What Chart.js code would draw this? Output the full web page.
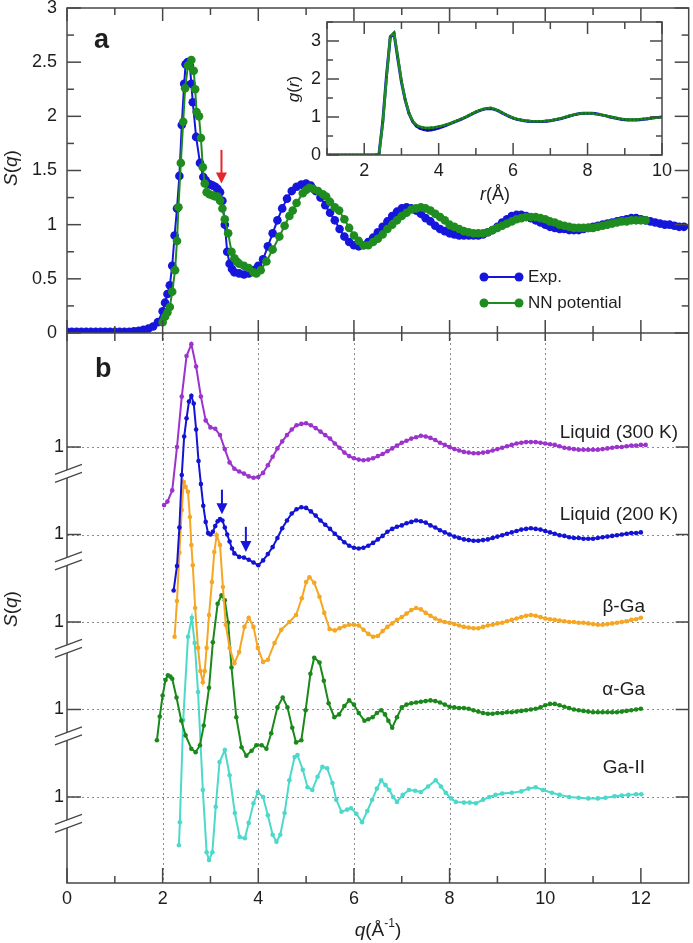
<!DOCTYPE html>
<html>
<head>
<meta charset="utf-8">
<script src="https://cdn.jsdelivr.net/npm/chart.js@4.4.1/dist/chart.umd.min.js"></script>
<style>
html, body { margin: 0; padding: 0; background: #fff; }
#wrap { position: relative; width: 693px; height: 943px; }
#wrap canvas { position: absolute; left: 0; top: 0; }
</style>
</head>
<body>
<div id="wrap">
  <canvas id="main" width="693" height="943"></canvas>
  <canvas id="inset" width="693" height="943"></canvas>
</div>
<script>
// ---- panel a: S(q), experiment vs NN potential ----
const expQ = [0, 0.1, 0.2, 0.3, 0.4, 0.5, 0.6, 0.7, 0.8, 0.9, 1.0, 1.1, 1.2, 1.3, 1.4, 1.5, 1.6, 1.7, 1.8, 1.9,
  2.0, 2.05, 2.1, 2.15, 2.2, 2.25, 2.3, 2.35, 2.4, 2.45, 2.48, 2.52, 2.57, 2.6, 2.63, 2.7, 2.78, 2.85, 2.9, 2.95,
  3.0, 3.05, 3.1, 3.15, 3.2, 3.25, 3.3, 3.35, 3.4, 3.45, 3.5, 3.6, 3.7, 3.8, 3.9,
  4.0, 4.1, 4.2, 4.3, 4.4, 4.5, 4.6, 4.7, 4.8, 4.9, 5.0, 5.1, 5.2, 5.3, 5.4, 5.5, 5.6, 5.7, 5.8, 5.9,
  6.0, 6.1, 6.2, 6.3, 6.4, 6.5, 6.6, 6.7, 6.8, 6.9, 7.0, 7.1, 7.2, 7.3, 7.4, 7.5, 7.6, 7.7, 7.8, 7.9,
  8.0, 8.1, 8.2, 8.3, 8.4, 8.5, 8.6, 8.7, 8.8, 8.9, 9.0, 9.1, 9.2, 9.3, 9.4, 9.5, 9.6, 9.7, 9.8, 9.9,
  10.0, 10.1, 10.2, 10.3, 10.4, 10.5, 10.6, 10.7, 10.8, 10.9, 11.0, 11.1, 11.2, 11.3, 11.4, 11.5, 11.6, 11.7, 11.8, 11.9,
  12.0, 12.1, 12.2, 12.3, 12.4, 12.5, 12.6, 12.7, 12.8, 12.9];
const expS = [0.01, 0.01, 0.01, 0.01, 0.01, 0.01, 0.01, 0.01, 0.01, 0.01, 0.01, 0.01, 0.01, 0.01, 0.015, 0.02, 0.03, 0.04, 0.06, 0.1,
  0.2, 0.28, 0.36, 0.44, 0.62, 0.9, 1.15, 1.45, 1.92, 2.3, 2.48, 2.5, 2.47, 2.3, 2.13, 1.81, 1.57, 1.44, 1.41, 1.38,
  1.37, 1.36, 1.35, 1.33, 1.3, 1.22, 1.0, 0.75, 0.64, 0.59, 0.56, 0.55, 0.54, 0.55, 0.58,
  0.62, 0.68, 0.8, 0.92, 1.04, 1.15, 1.24, 1.31, 1.35, 1.37, 1.38, 1.36, 1.31, 1.25, 1.18, 1.11, 1.04, 0.96, 0.89, 0.84,
  0.81, 0.8, 0.81, 0.84, 0.88, 0.93, 0.98, 1.03, 1.08, 1.12, 1.15, 1.16, 1.15, 1.13, 1.1, 1.06, 1.03, 0.99, 0.96, 0.94,
  0.92, 0.91, 0.9, 0.9, 0.9, 0.9, 0.9, 0.91, 0.93, 0.95, 0.98, 1.02, 1.05, 1.08, 1.09, 1.09, 1.08, 1.06, 1.04, 1.02,
  1.0, 0.98, 0.97, 0.96, 0.96, 0.95, 0.95, 0.95, 0.96, 0.97, 0.98, 0.99, 1.0, 1.01, 1.02, 1.03, 1.04, 1.05, 1.06, 1.06,
  1.05, 1.04, 1.03, 1.02, 1.01, 1.0, 1.0, 0.99, 0.98, 0.98];

const nnQ = [2.0, 2.05, 2.1, 2.15, 2.2, 2.26, 2.3, 2.33, 2.38, 2.43, 2.47, 2.53, 2.6, 2.65, 2.68, 2.71, 2.76, 2.8, 2.84, 2.88,
  2.92, 2.98, 3.05, 3.1, 3.15, 3.2, 3.25, 3.3, 3.37, 3.44, 3.5, 3.55, 3.6, 3.7, 3.8, 3.9, 3.96, 4.05, 4.17, 4.3,
  4.44, 4.55, 4.65, 4.72, 4.8, 4.93, 5.0, 5.07, 5.15, 5.25, 5.35, 5.42, 5.5, 5.6, 5.69, 5.8, 5.9, 6.0, 6.1, 6.2,
  6.3, 6.4, 6.5, 6.6, 6.7, 6.8, 6.9, 7.0, 7.1, 7.2, 7.3, 7.4, 7.5, 7.6, 7.7, 7.8, 7.9,
  8.0, 8.1, 8.2, 8.3, 8.4, 8.5, 8.6, 8.7, 8.8, 8.9, 9.0, 9.1, 9.2, 9.3, 9.4, 9.5, 9.6, 9.7, 9.8, 9.9,
  10.0, 10.1, 10.2, 10.3, 10.4, 10.5, 10.6, 10.7, 10.8, 10.9, 11.0, 11.1, 11.2, 11.3, 11.4, 11.5, 11.6, 11.7, 11.8, 11.9,
  12.0, 12.1];
const nnS = [0.1, 0.15, 0.19, 0.24, 0.38, 0.58, 0.85, 1.16, 1.57, 1.95, 2.26, 2.47, 2.52, 2.42, 2.25, 2.04, 2.0, 1.8, 1.53, 1.38,
  1.3, 1.28, 1.27, 1.26, 1.26, 1.22, 1.15, 1.05, 0.92, 0.75, 0.69, 0.66, 0.64, 0.62, 0.6, 0.56, 0.55, 0.58, 0.66, 0.77,
  0.89, 0.99, 1.08, 1.13, 1.2, 1.29, 1.32, 1.34, 1.33, 1.31, 1.28, 1.26, 1.21, 1.16, 1.13, 1.05, 0.97, 0.9, 0.85, 0.81,
  0.81, 0.84, 0.87, 0.91, 0.96, 1.0, 1.04, 1.08, 1.11, 1.14, 1.15, 1.16, 1.15, 1.13, 1.1, 1.07, 1.04,
  1.0, 0.98, 0.96, 0.94, 0.93, 0.92, 0.92, 0.92, 0.93, 0.95, 0.97, 0.99, 1.01, 1.03, 1.05, 1.06, 1.07, 1.07, 1.07, 1.06,
  1.05, 1.03, 1.02, 1.0, 0.99, 0.98, 0.97, 0.97, 0.97, 0.97, 0.97, 0.98, 0.99, 1.0, 1.01, 1.02, 1.03, 1.03, 1.04, 1.04,
  1.04, 1.04];

// ---- panel b: offset S(q) curves ----
const liq300Q = [2.03, 2.1, 2.2, 2.3, 2.4, 2.5, 2.6, 2.7, 2.8, 2.9, 3.0, 3.1, 3.2, 3.3, 3.4, 3.5, 3.6, 3.7, 3.8, 3.9,
  4.0, 4.1, 4.2, 4.3, 4.4, 4.5, 4.6, 4.7, 4.8, 4.9, 5.0, 5.1, 5.2, 5.3, 5.4, 5.5, 5.6, 5.7, 5.8, 5.9,
  6.0, 6.1, 6.2, 6.3, 6.4, 6.5, 6.6, 6.7, 6.8, 6.9, 7.0, 7.1, 7.2, 7.3, 7.4, 7.5, 7.6, 7.7, 7.8, 7.9,
  8.0, 8.1, 8.2, 8.3, 8.4, 8.5, 8.6, 8.7, 8.8, 8.9, 9.0, 9.1, 9.2, 9.3, 9.4, 9.5, 9.6, 9.7, 9.8, 9.9,
  10.0, 10.1, 10.2, 10.3, 10.4, 10.5, 10.6, 10.7, 10.8, 10.9, 11.0, 11.1, 11.2, 11.3, 11.4, 11.5, 11.6, 11.7, 11.8, 11.9,
  12.0, 12.1];
const liq300S = [0.17, 0.22, 0.38, 1.0, 1.72, 2.3, 2.47, 2.15, 1.72, 1.38, 1.28, 1.26, 1.17, 0.97, 0.78, 0.69, 0.65, 0.62, 0.58, 0.56,
  0.57, 0.63, 0.74, 0.86, 0.98, 1.08, 1.17, 1.25, 1.31, 1.33, 1.34, 1.31, 1.27, 1.22, 1.17, 1.12, 1.05, 0.99, 0.92, 0.87,
  0.84, 0.82, 0.81, 0.82, 0.84, 0.87, 0.9, 0.94, 0.98, 1.02, 1.06, 1.09, 1.12, 1.14, 1.16, 1.15, 1.13, 1.1, 1.06, 1.03,
  1.0, 0.97, 0.95, 0.93, 0.92, 0.91, 0.91, 0.92, 0.93, 0.95, 0.97, 0.99, 1.01, 1.03, 1.05, 1.06, 1.07, 1.07, 1.07, 1.06,
  1.05, 1.04, 1.03, 1.01, 0.99, 0.98, 0.97, 0.96, 0.96, 0.96, 0.96, 0.96, 0.97, 0.98, 0.99, 1.0, 1.0, 1.01, 1.02, 1.02,
  1.03, 1.03];

const liq200Q = [2.23, 2.3, 2.35, 2.4, 2.45, 2.5, 2.55, 2.6, 2.65, 2.7, 2.75, 2.8, 2.85, 2.9, 2.95, 3.0, 3.05, 3.1, 3.15, 3.2,
  3.25, 3.3, 3.35, 3.4, 3.45, 3.5, 3.6, 3.7, 3.8, 3.9,
  4.0, 4.1, 4.2, 4.3, 4.4, 4.5, 4.6, 4.7, 4.8, 4.9, 5.0, 5.1, 5.2, 5.3, 5.4, 5.5, 5.6, 5.7, 5.8, 5.9,
  6.0, 6.1, 6.2, 6.3, 6.4, 6.5, 6.6, 6.7, 6.8, 6.9, 7.0, 7.1, 7.2, 7.3, 7.4, 7.5, 7.6, 7.7, 7.8, 7.9,
  8.0, 8.1, 8.2, 8.3, 8.4, 8.5, 8.6, 8.7, 8.8, 8.9, 9.0, 9.1, 9.2, 9.3, 9.4, 9.5, 9.6, 9.7, 9.8, 9.9,
  10.0, 10.1, 10.2, 10.3, 10.4, 10.5, 10.6, 10.7, 10.8, 10.9, 11.0, 11.1, 11.2, 11.3, 11.4, 11.5, 11.6, 11.7, 11.8, 11.9,
  12.0];
const liq200S = [0.2, 0.55, 1.1, 1.85, 2.4, 2.66, 2.9, 2.98, 2.87, 2.5, 2.05, 1.72, 1.41, 1.18, 1.02, 1.0, 1.04, 1.12, 1.19, 1.22,
  1.2, 1.1, 1.0, 0.9, 0.8, 0.73, 0.68, 0.67, 0.64, 0.6,
  0.56, 0.63, 0.72, 0.82, 0.95, 1.09, 1.2, 1.3, 1.36, 1.39, 1.38, 1.33, 1.27, 1.2, 1.14, 1.08, 1.01, 0.95, 0.89, 0.84,
  0.81, 0.8, 0.81, 0.84, 0.88, 0.93, 0.98, 1.04, 1.08, 1.11, 1.13, 1.16, 1.18, 1.2, 1.19, 1.17, 1.13, 1.1, 1.06, 1.03,
  1.0, 0.97, 0.95, 0.93, 0.92, 0.91, 0.91, 0.92, 0.93, 0.95, 0.97, 0.99, 1.01, 1.03, 1.05, 1.07, 1.08, 1.09, 1.08, 1.07,
  1.05, 1.03, 1.01, 0.99, 0.98, 0.96, 0.95, 0.95, 0.94, 0.94, 0.94, 0.95, 0.96, 0.97, 0.98, 0.99, 1.0, 1.01, 1.02, 1.02,
  1.03];

const betaQ = [2.25, 2.3, 2.35, 2.4, 2.44, 2.48, 2.53, 2.57, 2.6, 2.63, 2.68, 2.74, 2.79, 2.84, 2.88, 2.92, 2.97, 3.03, 3.08, 3.13,
  3.2, 3.26, 3.32, 3.4, 3.5, 3.6, 3.71, 3.8, 3.9, 3.99, 4.1, 4.2, 4.34, 4.48, 4.65, 4.79, 4.91, 5.0, 5.07, 5.17,
  5.28, 5.38, 5.49, 5.6, 5.7, 5.8, 5.9, 6.0, 6.1, 6.2, 6.3, 6.4, 6.5, 6.6, 6.7, 6.8, 6.9, 7.0, 7.1, 7.2,
  7.3, 7.4, 7.5, 7.6, 7.7, 7.8, 7.9, 8.0, 8.1, 8.2, 8.3, 8.4, 8.5, 8.6, 8.7, 8.8, 8.9, 9.0, 9.1, 9.2,
  9.3, 9.4, 9.5, 9.6, 9.7, 9.8, 9.9, 10.0, 10.1, 10.2, 10.3, 10.4, 10.5, 10.6, 10.7, 10.8, 10.9, 11.0, 11.1, 11.2,
  11.3, 11.4, 11.5, 11.6, 11.7, 11.8, 11.9, 12.0];
const betaS = [0.79, 1.3, 1.99, 2.6, 3.0, 2.93, 2.86, 2.5, 2.1, 1.81, 1.2, 0.63, 0.3, 0.14, 0.3, 0.63, 1.1, 1.57, 2.0, 2.24,
  2.1, 1.5, 0.96, 0.63, 0.41, 0.57, 0.93, 1.06, 0.93, 0.63, 0.43, 0.46, 0.7, 0.89, 1.0, 1.1, 1.34, 1.57, 1.64, 1.56,
  1.36, 1.13, 0.9, 0.88, 0.91, 0.94, 0.96, 0.96, 0.95, 0.89, 0.83, 0.79, 0.8, 0.87, 0.93, 0.98, 1.03, 1.07, 1.12, 1.17,
  1.2, 1.18, 1.13, 1.09, 1.05, 1.02, 1.0, 0.99, 0.97, 0.95, 0.93, 0.92, 0.91, 0.91, 0.93, 0.95, 0.96, 0.98, 0.99, 1.01,
  1.03, 1.05, 1.07, 1.09, 1.1, 1.09, 1.07, 1.05, 1.04, 1.03, 1.02, 1.01, 1.0, 1.0, 0.99, 0.99, 0.98, 0.97, 0.96, 0.96,
  0.97, 0.98, 0.99, 1.0, 1.01, 1.03, 1.04, 1.06];

const alphaQ = [1.88, 1.94, 2.0, 2.06, 2.11, 2.16, 2.2, 2.29, 2.39, 2.48, 2.6, 2.69, 2.78, 2.86, 2.97, 3.05, 3.15, 3.23, 3.3, 3.37,
  3.44, 3.54, 3.65, 3.75, 3.86, 3.96, 4.07, 4.17, 4.27, 4.4, 4.51, 4.61, 4.71, 4.79, 4.9, 4.99, 5.09, 5.17, 5.28, 5.37,
  5.47, 5.59, 5.69, 5.8, 5.9, 6.0, 6.1, 6.22, 6.3, 6.39, 6.48, 6.57, 6.65, 6.72, 6.8, 6.9, 7.0, 7.1, 7.2, 7.3,
  7.4, 7.5, 7.6, 7.7, 7.8, 7.9, 8.0, 8.1, 8.2, 8.3, 8.4, 8.5, 8.6, 8.7, 8.8, 8.9, 9.0, 9.1, 9.2, 9.3,
  9.4, 9.5, 9.6, 9.7, 9.8, 9.9, 10.0, 10.1, 10.2, 10.3, 10.4, 10.5, 10.6, 10.7, 10.8, 10.9, 11.0, 11.1, 11.2, 11.3,
  11.4, 11.5, 11.6, 11.7, 11.8, 11.9, 12.0];
const alphaS = [0.56, 0.9, 1.2, 1.42, 1.49, 1.47, 1.44, 1.17, 0.84, 0.63, 0.44, 0.39, 0.49, 0.77, 1.31, 1.96, 2.51, 2.63, 2.56, 2.24,
  1.6, 0.89, 0.46, 0.34, 0.41, 0.49, 0.49, 0.44, 0.66, 1.03, 1.17, 1.03, 0.74, 0.53, 0.56, 0.99, 1.51, 1.74, 1.67, 1.41,
  1.09, 0.89, 0.93, 1.05, 1.13, 1.07, 0.95, 0.84, 0.86, 0.89, 0.95, 0.99, 0.93, 0.84, 0.74, 0.89, 1.03, 1.07, 1.09, 1.1,
  1.11, 1.12, 1.13, 1.12, 1.1, 1.07, 1.04, 1.03, 1.02, 1.02, 1.01, 0.99, 0.97, 0.95, 0.94, 0.94, 0.95, 0.95, 0.96, 0.96,
  0.97, 0.98, 0.99, 1.0, 1.01, 1.03, 1.06, 1.08, 1.08, 1.06, 1.04, 1.02, 1.0, 0.99, 0.98, 0.97, 0.96, 0.96, 0.96, 0.96,
  0.96, 0.96, 0.97, 0.98, 0.99, 1.0, 1.01];

const ga2Q = [2.34, 2.36, 2.43, 2.53, 2.61, 2.67, 2.74, 2.84, 2.92, 2.97, 3.04, 3.11, 3.19, 3.3, 3.4, 3.51, 3.61, 3.72, 3.8, 3.9,
  3.99, 4.1, 4.2, 4.3, 4.38, 4.46, 4.55, 4.65, 4.76, 4.82, 4.93, 5.03, 5.13, 5.24, 5.34, 5.44, 5.55, 5.63, 5.74, 5.86,
  5.94, 6.05, 6.17, 6.28, 6.38, 6.48, 6.57, 6.66, 6.74, 6.82, 6.9, 7.02, 7.15, 7.28, 7.4, 7.55, 7.71, 7.82, 7.92, 8.03,
  8.13, 8.3, 8.42, 8.55, 8.7, 8.83, 8.96, 9.1, 9.3, 9.5, 9.65, 9.8, 9.95, 10.14, 10.3, 10.5, 10.7, 10.9, 11.1, 11.26,
  11.45, 11.6, 11.74, 11.9, 12.01];
const ga2S = [0.31, 0.64, 2.1, 3.29, 3.56, 3.2, 2.5, 1.1, 0.21, 0.1, 0.21, 0.86, 1.5, 1.67, 1.31, 0.77, 0.43, 0.41, 0.63, 0.91,
  1.07, 1.0, 0.74, 0.46, 0.36, 0.46, 0.77, 1.24, 1.57, 1.6, 1.39, 1.14, 1.1, 1.29, 1.43, 1.41, 1.2, 0.96, 0.79, 0.82,
  0.84, 0.76, 0.64, 0.8, 0.96, 1.12, 1.24, 1.17, 1.1, 1.0, 0.93, 1.03, 1.1, 1.09, 1.07, 1.15, 1.24, 1.15, 1.06, 0.98,
  0.93, 0.92, 0.92, 0.91, 0.96, 1.0, 1.03, 1.05, 1.06, 1.08, 1.12, 1.14, 1.1, 1.06, 1.03, 1.0, 0.99, 0.98, 0.98, 0.99,
  1.01, 1.02, 1.03, 1.04, 1.04];

// vertical offsets of the stacked curves and the "1" reference levels
const bNames = ['Liquid (300 K)', 'Liquid (200 K)', '\u03b2-Ga', '\u03b1-Ga', 'Ga-II'];
const bOffsets = [5.0, 3.75, 2.5, 1.25, 0];
const bLevels = [6.0, 4.75, 3.5, 2.25, 1.0];

// ---- inset: g(r) ----
const gR = [1.0, 1.1, 1.2, 1.3, 1.4, 1.5, 1.6, 1.7, 1.8, 1.9, 2.0, 2.1, 2.2, 2.3, 2.4, 2.5, 2.6, 2.7, 2.8, 2.9,
  3.0, 3.1, 3.2, 3.3, 3.4, 3.5, 3.6, 3.7, 3.8, 3.9, 4.0, 4.1, 4.2, 4.3, 4.4, 4.5, 4.6, 4.7, 4.8, 4.9,
  5.0, 5.1, 5.2, 5.3, 5.4, 5.5, 5.6, 5.7, 5.8, 5.9, 6.0, 6.1, 6.2, 6.3, 6.4, 6.5, 6.6, 6.7, 6.8, 6.9,
  7.0, 7.1, 7.2, 7.3, 7.4, 7.5, 7.6, 7.7, 7.8, 7.9, 8.0, 8.1, 8.2, 8.3, 8.4, 8.5, 8.6, 8.7, 8.8, 8.9,
  9.0, 9.1, 9.2, 9.3, 9.4, 9.5, 9.6, 9.7, 9.8, 9.9, 10.0];
const gExp = [0, 0, 0, 0, 0, 0, 0, 0, 0, 0, 0, 0, 0, 0, 0.05, 0.9, 2.1, 3.1, 3.2, 2.55,
  1.92, 1.45, 1.1, 0.88, 0.76, 0.7, 0.67, 0.65, 0.66, 0.68, 0.71, 0.74, 0.78, 0.82, 0.86, 0.9, 0.94, 0.98, 1.03, 1.08,
  1.13, 1.17, 1.2, 1.22, 1.22, 1.2, 1.16, 1.11, 1.06, 1.01, 0.97, 0.94, 0.92, 0.9, 0.89, 0.88, 0.88, 0.88, 0.88, 0.89,
  0.9, 0.92, 0.94, 0.96, 0.99, 1.02, 1.05, 1.07, 1.09, 1.1, 1.1, 1.1, 1.09, 1.07, 1.05, 1.03, 1.0, 0.98, 0.96, 0.94,
  0.93, 0.92, 0.92, 0.92, 0.93, 0.94, 0.95, 0.97, 0.98, 0.99, 1.0];
const gNN = [0, 0, 0, 0, 0, 0, 0, 0, 0, 0, 0, 0, 0, 0, 0.04, 0.85, 2.05, 3.12, 3.22, 2.6,
  1.95, 1.46, 1.12, 0.9, 0.79, 0.74, 0.72, 0.71, 0.72, 0.73, 0.75, 0.77, 0.8, 0.83, 0.87, 0.91, 0.95, 0.99, 1.04, 1.09,
  1.14, 1.18, 1.21, 1.23, 1.24, 1.21, 1.17, 1.12, 1.07, 1.02, 0.98, 0.95, 0.93, 0.91, 0.9, 0.89, 0.89, 0.89, 0.89, 0.9,
  0.91, 0.93, 0.95, 0.97, 1.0, 1.03, 1.05, 1.07, 1.09, 1.1, 1.1, 1.1, 1.08, 1.07, 1.05, 1.03, 1.01, 0.99, 0.97, 0.95,
  0.94, 0.93, 0.93, 0.93, 0.94, 0.95, 0.96, 0.97, 0.98, 0.99, 1.0];

const xTicks = [0, 2, 4, 6, 8, 10, 12];
const rTicks = [2, 4, 6, 8, 10];
const gTicks = [0, 1, 2, 3];

const FONT = '"Liberation Sans", Arial, Helvetica, sans-serif';
const INK = '#1e1e1e';
const AXIS = '#474747';
const BLUE = '#1515dc';
const GREEN = '#1f8c1f';
const bColors = ['#9b33cc', '#1313d4', '#f5a623', '#1b881b', '#4cd8ca'];

const pts = (qs, ss, off) => qs.map((q, i) => ({ x: q, y: ss[i] + (off || 0) }));

function seg(ctx, x1, y1, x2, y2) {
  ctx.beginPath(); ctx.moveTo(x1, y1); ctx.lineTo(x2, y2); ctx.stroke();
}

function arrow(ctx, x, yTop, yTip, color) {
  ctx.save();
  ctx.strokeStyle = color; ctx.fillStyle = color; ctx.lineWidth = 2;
  seg(ctx, x, yTop, x, yTip - 8);
  ctx.beginPath();
  ctx.moveTo(x - 5.5, yTip - 11); ctx.lineTo(x + 5.5, yTip - 11); ctx.lineTo(x, yTip);
  ctx.closePath(); ctx.fill();
  ctx.restore();
}

// text with italic / superscript parts, centred on (x, y)
function richText(ctx, parts, x, y, size, angle) {
  ctx.save();
  ctx.translate(x, y);
  ctx.rotate(angle || 0);
  const fontOf = p => (p.it ? 'italic ' : '') + (p.sup ? Math.round(size * 0.62) : size) + 'px ' + FONT;
  let w = 0;
  parts.forEach(p => { ctx.font = fontOf(p); w += ctx.measureText(p.t).width; });
  let cx = -w / 2;
  ctx.textBaseline = 'middle';
  ctx.textAlign = 'left';
  ctx.fillStyle = INK;
  parts.forEach(p => {
    ctx.font = fontOf(p);
    ctx.fillText(p.t, cx, p.sup ? -size * 0.38 : 0);
    cx += ctx.measureText(p.t).width;
  });
  ctx.restore();
}

const mainDeco = {
  id: 'mainDeco',
  beforeDatasetsDraw(chart) {
    const { ctx, chartArea: a, scales: { x, yb } } = chart;
    ctx.save();
    ctx.strokeStyle = '#8c8c8c';
    ctx.lineWidth = 1;
    ctx.setLineDash([2, 3]);
    [2, 4, 6, 8, 10].forEach(q => {
      const px = Math.round(x.getPixelForValue(q)) + 0.5;
      seg(ctx, px, yb.top, px, yb.bottom);
    });
    bLevels.forEach(v => {
      const py = Math.round(yb.getPixelForValue(v)) + 0.5;
      seg(ctx, a.left, py, a.right, py);
    });
    ctx.restore();
  },
  afterDatasetsDraw(chart) {
    const { ctx, chartArea: a, scales: { x, ya, yb } } = chart;
    ctx.save();
    ctx.strokeStyle = AXIS;
    ctx.lineWidth = 1.5;
    ctx.strokeRect(a.left, a.top, a.right - a.left, a.bottom - a.top);
    seg(ctx, a.left, ya.bottom, a.right, ya.bottom);

    // x ticks on the panel borders
    for (let q = 0; q <= 12; q++) {
      const px = x.getPixelForValue(q);
      const major = q % 2 === 0;
      const L = major ? 13 : 7;
      seg(ctx, px, ya.top, px, ya.top + L);
      seg(ctx, px, ya.bottom, px, ya.bottom - L);
      seg(ctx, px, yb.top, px, yb.top + 8);
      seg(ctx, px, yb.bottom, px, yb.bottom - (major ? 15 : 7));
    }
    // panel a y ticks, both sides
    for (let k = 0; k <= 12; k++) {
      const py = ya.getPixelForValue(k * 0.25);
      const L = k % 2 === 0 ? 14 : 7;
      seg(ctx, a.left, py, a.left + L, py);
      seg(ctx, a.right, py, a.right - L, py);
    }
    // panel b level ticks
    bLevels.forEach(v => {
      const py = yb.getPixelForValue(v);
      seg(ctx, a.left, py, a.left + 14, py);
      seg(ctx, a.right, py, a.right - 13, py);
    });
    // axis breaks below each level
    bLevels.forEach(v => {
      const c = yb.getPixelForValue(v) + 27;
      const bx = a.left;
      ctx.fillStyle = '#fff';
      ctx.beginPath();
      ctx.moveTo(bx - 3, c - 4 + 1.1); ctx.lineTo(bx + 3, c - 4 - 1.1);
      ctx.lineTo(bx + 3, c + 4 - 1.1); ctx.lineTo(bx - 3, c + 4 + 1.1);
      ctx.closePath(); ctx.fill();
      ctx.strokeStyle = AXIS; ctx.lineWidth = 1.3;
      [-4, 4].forEach(d => seg(ctx, bx - 12, c + d + 4.4, bx + 15, c + d - 5.6));
    });

    // arrows
    const qa = x.getPixelForValue(3.23);
    arrow(ctx, qa, ya.getPixelForValue(1.69), ya.getPixelForValue(1.38), '#e8262a');
    [[3.24, 1.64, 1.29], [3.74, 1.11, 0.75]].forEach(([q, top, tip]) => {
      arrow(ctx, x.getPixelForValue(q), yb.getPixelForValue(top + bOffsets[1]),
        yb.getPixelForValue(tip + bOffsets[1]), '#1515dc');
    });

    // legend of panel a
    const legendRows = [277, 303];
    chart.data.datasets.slice(0, 2).forEach((ds, i) => {
      const y = legendRows[i];
      ctx.strokeStyle = ds.borderColor; ctx.fillStyle = ds.borderColor; ctx.lineWidth = 2;
      seg(ctx, 484, y, 519, y);
      [484, 519].forEach(cx => { ctx.beginPath(); ctx.arc(cx, y, 4.5, 0, Math.PI * 2); ctx.fill(); });
      ctx.fillStyle = INK;
      ctx.font = '17px ' + FONT;
      ctx.textAlign = 'left'; ctx.textBaseline = 'middle';
      ctx.fillText(ds.label, 528, y);
    });

    // series names in panel b
    const namePos = [[678, 438], [678, 520], [645, 612], [645, 695], [645, 773]];
    ctx.font = '19px ' + FONT;
    ctx.fillStyle = INK;
    ctx.textAlign = 'right'; ctx.textBaseline = 'alphabetic';
    bNames.forEach((n, i) => ctx.fillText(n, namePos[i][0], namePos[i][1]));

    // panel letters
    ctx.font = 'bold 27px ' + FONT;
    ctx.textAlign = 'left';
    ctx.fillText('a', 94, 48);
    ctx.fillText('b', 95, 377);

    // axis titles
    const sq = [{ t: 'S', it: true }, { t: '(' }, { t: 'q', it: true }, { t: ')' }];
    richText(ctx, sq, 12, 168, 19, -Math.PI / 2);
    richText(ctx, sq, 12, 609, 19, -Math.PI / 2);
    richText(ctx, [{ t: 'q', it: true }, { t: '(\u00c5' }, { t: '-1', sup: true }, { t: ')' }], 378, 931, 19, 0);
    ctx.restore();
  }
};

const tickFont = { family: FONT, size: 18 };

const datasets = [
  { label: 'Exp.', data: pts(expQ, expS), yAxisID: 'ya', order: 2,
    borderColor: BLUE, backgroundColor: BLUE, borderWidth: 2, pointRadius: 4.3, pointBorderWidth: 0 },
  { label: 'NN potential', data: pts(nnQ, nnS), yAxisID: 'ya', order: 1,
    borderColor: GREEN, backgroundColor: GREEN, borderWidth: 2, pointRadius: 4.3, pointBorderWidth: 0 }
];
const bQ = [liq300Q, liq200Q, betaQ, alphaQ, ga2Q];
const bS = [liq300S, liq200S, betaS, alphaS, ga2S];
bNames.forEach((n, i) => {
  datasets.push({
    label: n, data: pts(bQ[i], bS[i], bOffsets[i]), yAxisID: 'yb', order: 3 + i,
    borderColor: bColors[i], backgroundColor: bColors[i], borderWidth: 2,
    pointRadius: 2.3, pointBorderWidth: 0
  });
});

new Chart(document.getElementById('main'), {
  type: 'line',
  data: { datasets },
  options: {
    responsive: false,
    devicePixelRatio: 1,
    animation: false,
    events: [],
    layout: { padding: { left: 0, right: 3, top: 8, bottom: 0 } },
    plugins: { legend: { display: false }, tooltip: { enabled: false } },
    elements: { line: { tension: 0 } },
    scales: {
      x: {
        type: 'linear', position: 'bottom', min: 0, max: 13,
        afterBuildTicks: s => { s.ticks = xTicks.map(v => ({ value: v })); },
        afterFit: s => { s.height = 60; s.paddingLeft = 0; s.paddingRight = 0; },
        grid: { display: false, drawTicks: false }, border: { display: false },
        ticks: { font: tickFont, color: INK, padding: 5, maxRotation: 0, autoSkip: false }
      },
      // listed first so that it is stacked at the bottom
      yb: {
        type: 'linear', position: 'left', stack: 'v', stackWeight: 550, min: -0.229, max: 7.629,
        afterBuildTicks: s => { s.ticks = bLevels.map(v => ({ value: v })); },
        afterFit: s => { s.width = 67; s.paddingTop = 0; s.paddingBottom = 0; },
        grid: { display: false, drawTicks: false }, border: { display: false },
        ticks: { font: tickFont, color: INK, padding: 3, callback: () => '1' }
      },
      ya: {
        type: 'linear', position: 'left', stack: 'v', stackWeight: 325, min: 0, max: 3,
        afterFit: s => { s.width = 67; s.paddingTop = 0; s.paddingBottom = 0; },
        grid: { display: false, drawTicks: false }, border: { display: false },
        ticks: { stepSize: 0.5, font: tickFont, color: INK, padding: 10, callback: v => String(v) }
      }
    }
  },
  plugins: [mainDeco]
});

// ---- inset chart ----
const insetDeco = {
  id: 'insetDeco',
  afterDatasetsDraw(chart) {
    const { ctx, chartArea: a, scales: { x, y } } = chart;
    ctx.save();
    ctx.strokeStyle = AXIS;
    ctx.lineWidth = 1.5;
    ctx.strokeRect(a.left, a.top, a.right - a.left, a.bottom - a.top);
    for (let r = 1; r <= 10; r++) {
      const px = x.getPixelForValue(r);
      const L = r % 2 === 0 ? 12 : 7;
      seg(ctx, px, a.bottom, px, a.bottom - L);
      seg(ctx, px, a.top, px, a.top + L);
    }
    for (let k = 0; k <= 7; k++) {
      const py = y.getPixelForValue(k * 0.5);
      const L = k % 2 === 0 ? 12 : 6;
      seg(ctx, a.left, py, a.left + L, py);
      seg(ctx, a.right, py, a.right - L, py);
    }
    richText(ctx, [{ t: 'g', it: true }, { t: '(' }, { t: 'r', it: true }, { t: ')' }], 294, 89, 17, -Math.PI / 2);
    richText(ctx, [{ t: 'r', it: true }, { t: '(\u00c5)' }], 495, 195, 18, 0);
    ctx.restore();
  }
};

new Chart(document.getElementById('inset'), {
  type: 'line',
  data: {
    datasets: [
      { label: 'Exp.', data: pts(gR, gExp), order: 2, borderColor: BLUE, backgroundColor: '#0a0a80',
        borderWidth: 3, pointRadius: 1.2, pointBorderWidth: 0 },
      { label: 'NN potential', data: pts(gR, gNN), order: 1, borderColor: GREEN, backgroundColor: '#157015',
        borderWidth: 2.6, pointRadius: 1.2, pointBorderWidth: 0 }
    ]
  },
  options: {
    responsive: false,
    devicePixelRatio: 1,
    animation: false,
    events: [],
    layout: { padding: { left: 0, right: 31, top: 22, bottom: 0 } },
    plugins: { legend: { display: false }, tooltip: { enabled: false } },
    scales: {
      x: {
        type: 'linear', min: 1, max: 10,
        afterBuildTicks: s => { s.ticks = rTicks.map(v => ({ value: v })); },
        afterFit: s => { s.height = 788; s.paddingLeft = 0; s.paddingRight = 0; },
        grid: { display: false, drawTicks: false }, border: { display: false },
        ticks: { font: tickFont, color: INK, padding: 5, maxRotation: 0, autoSkip: false }
      },
      y: {
        type: 'linear', min: 0, max: 3.5,
        afterBuildTicks: s => { s.ticks = gTicks.map(v => ({ value: v })); },
        afterFit: s => { s.width = 327; s.paddingTop = 0; s.paddingBottom = 0; },
        grid: { display: false, drawTicks: false }, border: { display: false },
        ticks: { font: tickFont, color: INK, padding: 6 }
      }
    }
  },
  plugins: [insetDeco]
});
</script>
</body>
</html>
